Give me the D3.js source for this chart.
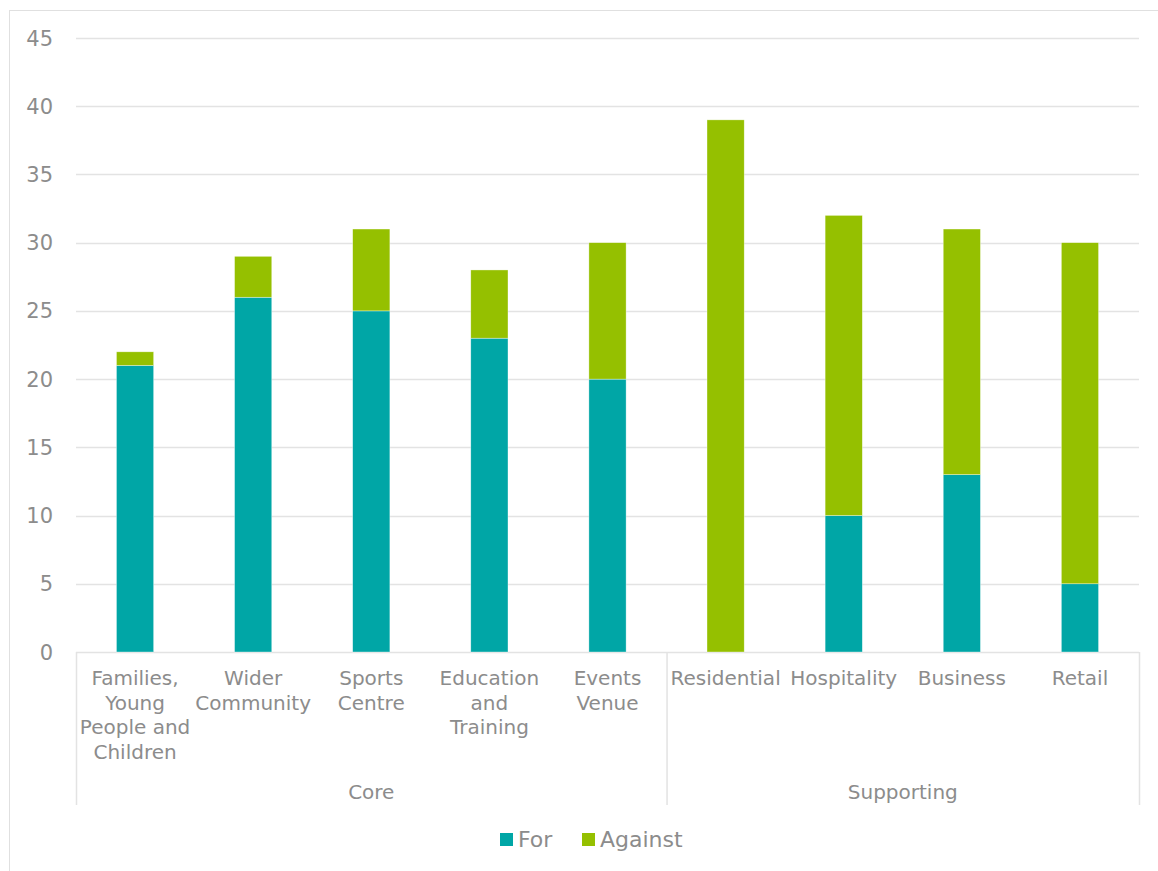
<!DOCTYPE html>
<html>
<head>
<meta charset="utf-8">
<script src="https://cdn.jsdelivr.net/npm/d3@7"></script>
<style>
  body { margin: 0; background: #fff; }
  svg { font-family: "DejaVu Sans", Verdana, sans-serif; }
</style>
</head>
<body>
<svg id="chart" width="1158" height="871"></svg>
<script>
// chart data
const categories = [
  ['Families,', 'Young', 'People and', 'Children'],
  ['Wider', 'Community'],
  ['Sports', 'Centre'],
  ['Education', 'and', 'Training'],
  ['Events', 'Venue'],
  ['Residential'],
  ['Hospitality'],
  ['Business'],
  ['Retail']
]
const groups = ['Core', 'Core', 'Core', 'Core', 'Core', 'Supporting', 'Supporting', 'Supporting', 'Supporting']
const forValues = [21, 26, 25, 23, 20, 0, 10, 13, 5]
const againstValues = [1, 3, 6, 5, 10, 39, 22, 18, 25]
const seriesNames = ['For', 'Against']
const yTicks = [0, 5, 10, 15, 20, 25, 30, 35, 40, 45]

const colors = { For: '#00a6a6', Against: '#95c000' }
const textColor = '#8c8c8c'
const gridColor = '#e3e3e3'

const svg = d3.select('#chart')
const plotLeft = 76, plotRight = 1139, plotTop = 38, plotBottom = 652

// chart border
svg.append('rect')
  .attr('x', 9.5).attr('y', 10.5)
  .attr('width', 1160).attr('height', 880)
  .attr('fill', 'none')
  .attr('stroke', '#e0e0e0')

const idx = d3.range(categories.length)
const x = d3.scaleBand().domain(idx).range([plotLeft, plotRight])
const y = d3.scaleLinear().domain([0, 45]).range([plotBottom, plotTop])

// gridlines
svg.append('g')
  .selectAll('line')
  .data(yTicks)
  .enter()
  .append('line')
  .attr('x1', plotLeft).attr('x2', plotRight)
  .attr('y1', d => Math.round(y(d)) + 0.5)
  .attr('y2', d => Math.round(y(d)) + 0.5)
  .attr('stroke', gridColor)
  .attr('stroke-width', 1.5)

// y labels
svg.append('g')
  .selectAll('text')
  .data(yTicks)
  .enter()
  .append('text')
  .attr('x', 53)
  .attr('y', d => y(d))
  .attr('dy', '0.36em')
  .attr('text-anchor', 'end')
  .attr('fill', textColor)
  .attr('font-size', 21)
  .text(d => d)

// stacked bars
const rows = idx.map(i => ({ i: i, For: forValues[i], Against: againstValues[i] }))
const stacked = d3.stack().keys(seriesNames)(rows)
const barW = x.bandwidth() * 0.315

svg.append('g')
  .selectAll('g')
  .data(stacked)
  .enter()
  .append('g')
  .attr('fill', s => colors[s.key])
  .selectAll('rect')
  .data(s => s)
  .enter()
  .append('rect')
  .attr('x', d => x(d.data.i) + (x.bandwidth() - barW) / 2)
  .attr('y', d => y(d[1]))
  .attr('width', barW)
  .attr('height', d => y(d[0]) - y(d[1]))
  .attr('stroke', '#fff')
  .attr('stroke-opacity', 0.6)
  .attr('stroke-width', 0.6)

// category axis dividers
const groupEdges = [0, 5, 9]
svg.append('g')
  .selectAll('line')
  .data(groupEdges)
  .enter()
  .append('line')
  .attr('x1', d => (d < 9 ? x(d) : plotRight) + 0.5)
  .attr('x2', d => (d < 9 ? x(d) : plotRight) + 0.5)
  .attr('y1', plotBottom)
  .attr('y2', 805)
  .attr('stroke', gridColor)
  .attr('stroke-width', 1.5)

// category labels
const catLabels = svg.append('g')
  .selectAll('text')
  .data(idx)
  .enter()
  .append('text')
  .attr('text-anchor', 'middle')
  .attr('fill', textColor)
  .attr('font-size', 20)
  .attr('x', i => x(i) + x.bandwidth() / 2)
  .attr('y', 685)

catLabels.selectAll('tspan')
  .data(i => categories[i].map(t => ({ t: t, i: i })))
  .enter()
  .append('tspan')
  .attr('x', d => x(d.i) + x.bandwidth() / 2)
  .attr('dy', (d, j) => j === 0 ? 0 : 24.5)
  .text(d => d.t)

// group labels
const groupNames = Array.from(new Set(groups))
svg.append('g')
  .selectAll('text')
  .data(groupNames)
  .enter()
  .append('text')
  .attr('text-anchor', 'middle')
  .attr('fill', textColor)
  .attr('font-size', 20)
  .attr('x', g => {
    const members = idx.filter(i => groups[i] === g)
    return (x(members[0]) + x(members[members.length - 1]) + x.bandwidth()) / 2
  })
  .attr('y', 799)
  .text(g => g)

// legend
const legend = svg.append('g')
const legendPos = [500, 582]
seriesNames.forEach((name, k) => {
  legend.append('rect')
    .attr('x', legendPos[k]).attr('y', 833)
    .attr('width', 13).attr('height', 13)
    .attr('fill', colors[name])
  legend.append('text')
    .attr('x', legendPos[k] + 18).attr('y', 847)
    .attr('fill', textColor)
    .attr('font-size', 22)
    .text(name)
})
</script>
</body>
</html>
